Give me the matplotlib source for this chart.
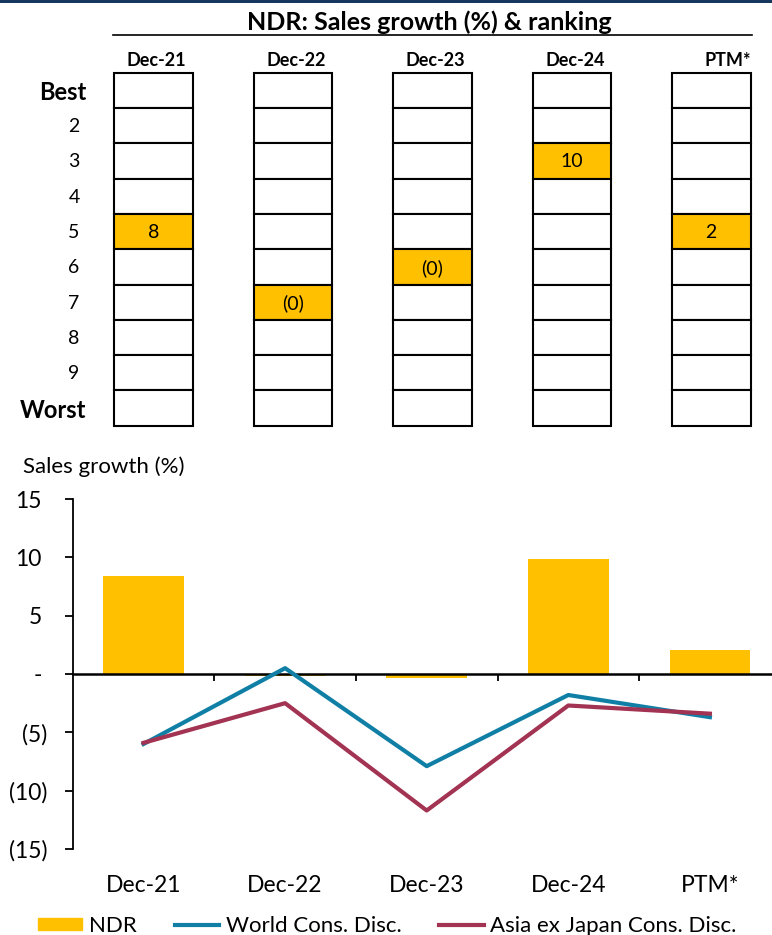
import matplotlib.pyplot as plt
from matplotlib.patches import Rectangle
from matplotlib.lines import Line2D
from matplotlib.transforms import blended_transform_factory, ScaledTranslation

plt.rcParams['font.family'] = ['Lato', 'DejaVu Sans']

periods = ["Dec-21", "Dec-22", "Dec-23", "Dec-24", "PTM*"]
ndr_growth = [8.4, -0.15, -0.3, 9.85, 2.1]
ndr_rank = [5, 7, 6, 3, 5]
world_growth = [-6.0, 0.5, -7.9, -1.8, -3.7]
asia_growth = [-5.9, -2.5, -11.7, -2.7, -3.4]
rank_labels = ["Best", "2", "3", "4", "5", "6", "7", "8", "9", "Worst"]
ytick_vals = [-15, -10, -5, 0, 5, 10, 15]

YELLOW = "#FFC000"
BLUE = "#107FA5"
MAROON = "#A23352"


def fmt(v):
    r = int(round(abs(v)))
    return f"({r})" if v < 0 else f"{r}"


def ytick_fmt(v):
    if v == 0:
        return "-"
    if v < 0:
        return f"({abs(v)})"
    return f"{v}"


W, H = 772, 935
fig = plt.figure(figsize=(W / 100, H / 100), dpi=100)

# ---- ranking table (pixel coordinates) ----
tab = fig.add_axes([0, 0, 1, 1])
tab.set_xlim(0, W)
tab.set_ylim(H, 0)
tab.axis("off")

tab.add_patch(Rectangle((0, 0), W, 3, color="#17375E", lw=0))
tab.text(429, 22, "NDR: Sales growth (%) & ranking", ha="center", va="center",
         fontsize=18, fontweight="bold")
tab.plot([113, 752], [34.5, 34.5], color="black", lw=1.2)

col_x0, col_step, col_w = 114, 139.5, 78.5
row_y0, row_h = 72.7, 35.3

for i, p in enumerate(periods):
    x0 = col_x0 + i * col_step
    if p == "PTM*":
        tab.text(x0 + col_w + 1, 60, p, ha="right", va="center", fontsize=13, fontweight="bold")
    else:
        tab.text(x0 + col_w / 2 + 3.5, 60, p, ha="center", va="center", fontsize=13,
                 fontweight="bold")
    for r in range(1, len(rank_labels) + 1):
        y0 = row_y0 + (r - 1) * row_h
        hit = (r == ndr_rank[i])
        tab.add_patch(Rectangle((x0, y0), col_w, row_h, facecolor=YELLOW if hit else "white",
                                edgecolor="black", lw=1.5))
        if hit:
            tab.text(x0 + col_w / 2, y0 + row_h / 2 + 1, fmt(ndr_growth[i]), ha="center",
                     va="center", fontsize=14)

for r, lab in enumerate(rank_labels):
    yc = row_y0 + r * row_h + row_h / 2
    if lab in ("Best", "Worst"):
        tab.text(86, yc + 2, lab, ha="right", va="center", fontsize=17, fontweight="bold")
    else:
        tab.text(74, yc + 1, lab, ha="center", va="center", fontsize=14)

tab.text(23, 467, "Sales growth (%)", ha="left", va="center", fontsize=16)

# ---- bar + line chart ----
ax_l, ax_r, ax_top, ax_bot = 72.7, 780.7, 499, 849
ax = fig.add_axes([ax_l / W, (H - ax_bot) / H, (ax_r - ax_l) / W, (ax_bot - ax_top) / H])
ax.patch.set_alpha(0)
x = list(range(len(periods)))

ax.bar(x, ndr_growth, width=0.57, color=YELLOW, zorder=1, label="NDR")
ax.plot(x, world_growth, color=BLUE, lw=3, zorder=3, label="World Cons. Disc.")
ax.plot(x, asia_growth, color=MAROON, lw=3, zorder=3, label="Asia ex Japan Cons. Disc.")

ax.set_xlim(-0.5, 4.5)
ax.set_ylim(-15, 15)
ax.spines["top"].set_visible(False)
ax.spines["right"].set_visible(False)
ax.spines["bottom"].set_position(("data", 0))
ax.spines["bottom"].set_linewidth(1.8)
ax.spines["bottom"].set_zorder(2)
ax.spines["left"].set_linewidth(1.3)

ax.set_yticks(ytick_vals)
ax.set_yticklabels([ytick_fmt(v) for v in ytick_vals])
ax.tick_params(axis="y", direction="out", length=6, width=1.3, pad=12, labelsize=16.5)
# non-negative labels sit one bracket-width further left
shift = ScaledTranslation(-6 / 100, 0, fig.dpi_scale_trans)
for v, lab in zip(ytick_vals, ax.get_yticklabels()):
    if v >= 0:
        lab.set_transform(lab.get_transform() + shift)

ax.set_xticks([0.5, 1.5, 2.5, 3.5])
ax.set_xticklabels([])
ax.tick_params(axis="x", direction="out", length=5, width=1.3)

trans = blended_transform_factory(ax.transData, ax.transAxes)
for i, p in enumerate(periods):
    ax.text(i, -0.103, p, transform=trans, ha="center", va="center", fontsize=16.5)

handles = [Rectangle((0, 0), 1, 1, color=YELLOW),
           Line2D([], [], color=BLUE, lw=3),
           Line2D([], [], color=MAROON, lw=3)]
fig.legend(handles, ["NDR", "World Cons. Disc.", "Asia ex Japan Cons. Disc."],
           loc="center left", bbox_to_anchor=(38 / W, (H - 926) / H), ncol=3, frameon=False,
           fontsize=16, handlelength=2.0, handleheight=0.5, handletextpad=0.3,
           columnspacing=1.7, borderpad=0, borderaxespad=0)

fig.savefig("out.png", dpi=100)
